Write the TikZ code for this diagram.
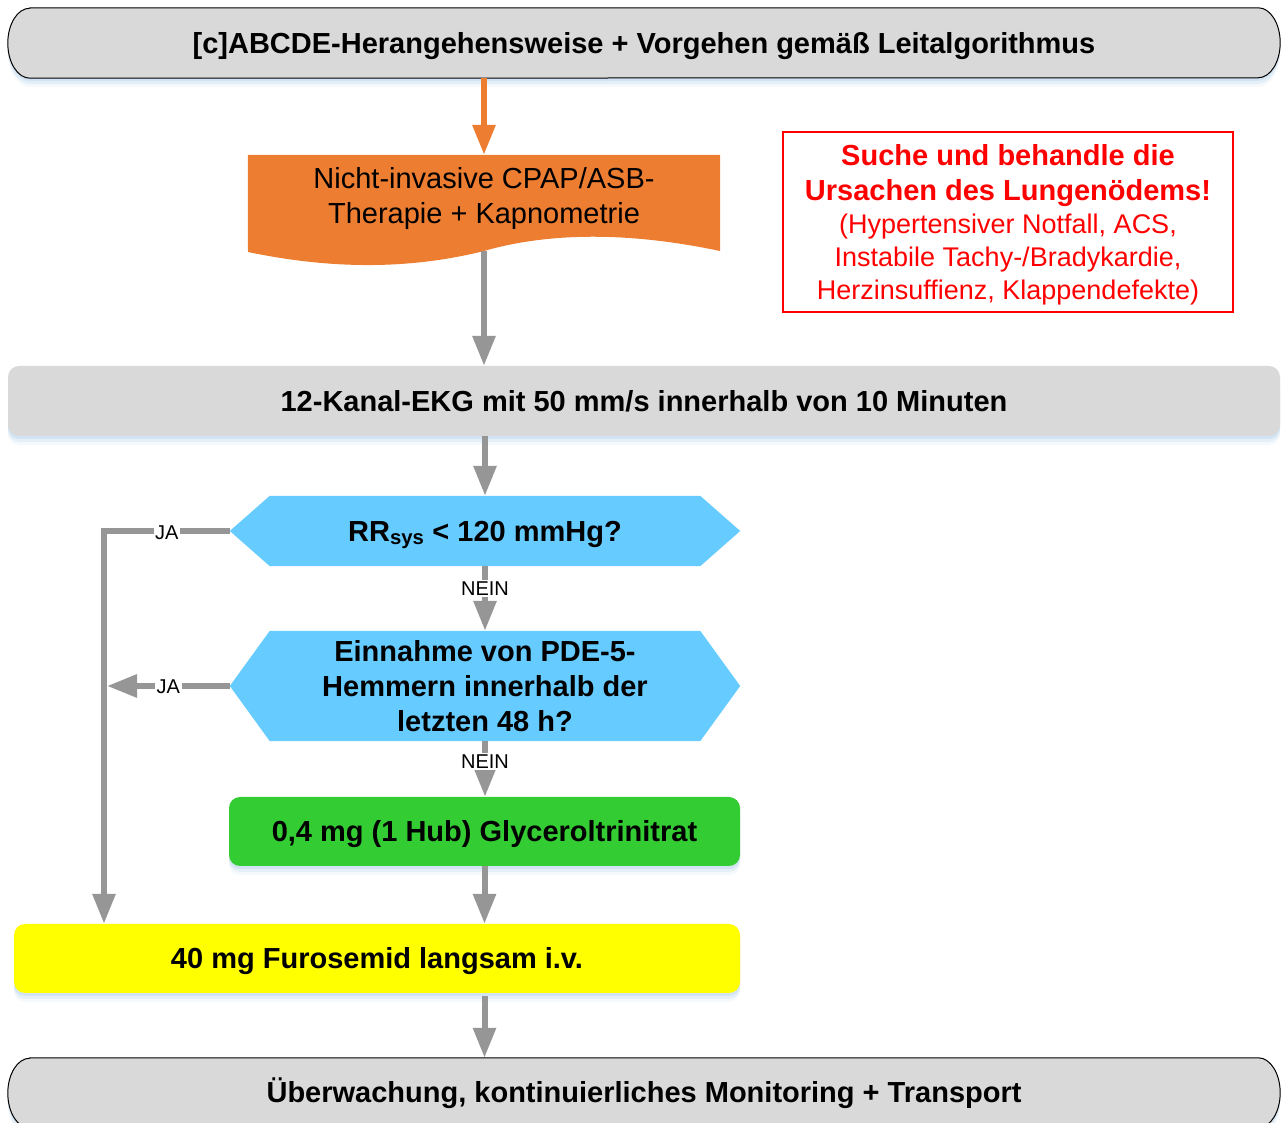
\documentclass[tikz,border=0pt]{standalone}
\usepackage{fontspec}
\setmainfont{Liberation Sans}
\usetikzlibrary{arrows.meta,backgrounds,calc}
\pgfdeclarelayer{shadowlayer}
\pgfsetlayers{shadowlayer,background,main}

\definecolor{boxgray}{HTML}{D9D9D9}
\definecolor{arrowgray}{HTML}{969696}
\definecolor{cpaporange}{HTML}{ED7D31}
\definecolor{qblue}{HTML}{66CCFF}
\definecolor{gtngreen}{HTML}{33CC33}
\definecolor{furoyellow}{HTML}{FFFF00}
\definecolor{alertred}{HTML}{FF0000}
\definecolor{shadeblue}{HTML}{BDD7EE}

\tikzset{
  bigbold/.style={font=\fontsize{29}{35}\selectfont\bfseries},
  bignorm/.style={font=\fontsize{29}{35}\selectfont},
  softshadow/.style={
    preaction={draw=none, fill=shadeblue, fill opacity=0.45, transform canvas={yshift=-3pt}},
    preaction={draw=none, fill=shadeblue, fill opacity=0.30, transform canvas={yshift=-6pt}},
    preaction={draw=none, fill=shadeblue, fill opacity=0.15, transform canvas={yshift=-9pt}}},
  termtext/.style={bigbold, minimum width=1272pt, minimum height=70pt, inner sep=0pt},
  termshape/.style={fill=boxgray, draw=black, line width=1pt, softshadow},
  plainbox/.style={bigbold, minimum height=70pt, inner sep=0pt, rounded corners=11pt, softshadow},
  question/.style={bigbold, minimum width=510pt, inner sep=0pt, align=center},
  garrow/.style={draw=arrowgray, line width=6pt, -{Triangle[length=30pt,width=22pt]}},
  oarrow/.style={draw=cpaporange, line width=6pt, -{Triangle[length=30pt,width=22pt]}},
  lbl/.style={font=\fontsize{20}{20}\selectfont, fill=white, inner sep=1.5pt, text=black},
}

\begin{document}
\begin{tikzpicture}[x=1pt,y=1pt]
\useasboundingbox (0,0) rectangle (1288,1122);

% ---- nodes ----
\node[termtext, text depth=0pt] (top) at (644,1079) {[c]ABCDE-Herangehensweise + Vorgehen gemäß Leitalgorithmus};

\node[bignorm, minimum width=472pt, minimum height=81pt, inner sep=0pt, align=center, text depth=0pt] (cpap) at (484,926.5)
  {Nicht-invasive CPAP/ASB-\\Therapie + Kapnometrie};

\node[draw=alertred, line width=2pt, text=alertred, minimum width=450pt, minimum height=180pt,
      inner sep=0pt, align=center, text depth=0pt, font=\fontsize{27}{33}\selectfont] (cause) at (1008,900)
  {\textbf{\fontsize{29}{33}\selectfont Suche und behandle die}\\[2pt]\textbf{\fontsize{29}{33}\selectfont Ursachen des Lungenödems!}\\(Hypertensiver Notfall, ACS,\\Instabile Tachy-/Bradykardie,\\Herzinsuffienz, Klappendefekte)};

\node[plainbox, fill=boxgray, minimum width=1272pt] (ekg) at (644,721)
  {12-Kanal-EKG mit 50 mm/s innerhalb von 10 Minuten};

\node[question, minimum height=70pt, text depth=0pt] (q1) at (485,591)
  {RR\textsubscript{sys} < 120 mmHg?};

\node[question, minimum height=110pt] (q2) at (485,436)
  {Einnahme von PDE-5-\\Hemmern innerhalb der\\letzten 48 h?};

\node[plainbox, fill=gtngreen, minimum width=511pt, minimum height=69pt, text depth=1pt] (gtn) at (484.5,290.5)
  {0,4 mg (1 Hub) Glyceroltrinitrat};

\node[plainbox, fill=furoyellow, minimum width=726pt, minimum height=69pt, text depth=1pt] (furo) at (377,163.5)
  {40 mg Furosemid langsam i.v.};

\node[termtext] (bot) at (644,29) {Überwachung, kontinuierliches Monitoring + Transport};

\coordinate (jx) at (104,0);

% ---- shapes behind the texts ----
\begin{scope}[on background layer]
  % terminal boxes with flattened round ends
  \path[termshape] ([xshift=22pt]top.north west) -- ([xshift=-22pt]top.north east)
    arc[start angle=90, end angle=-90, x radius=22pt, y radius=35pt]
    -- ([xshift=22pt]top.south west)
    arc[start angle=270, end angle=90, x radius=22pt, y radius=35pt] -- cycle;
  \path[termshape] ([xshift=22pt]bot.north west) -- ([xshift=-22pt]bot.north east)
    arc[start angle=90, end angle=-90, x radius=22pt, y radius=35pt]
    -- ([xshift=22pt]bot.south west)
    arc[start angle=270, end angle=90, x radius=22pt, y radius=35pt] -- cycle;
  % document shape with wavy lower edge
  \fill[cpaporange] (cpap.north west) -- (cpap.north east) -- (720,871)
    .. controls (630,890) and (550,890) .. (484,871)
    .. controls (400,850) and (320,855) .. (248,870) -- cycle;
  % decision hexagons
  \fill[qblue] (q1.west) -- ([xshift=40pt]q1.north west) -- ([xshift=-40pt]q1.north east)
    -- (q1.east) -- ([xshift=-40pt]q1.south east) -- ([xshift=40pt]q1.south west) -- cycle;
  \fill[qblue] (q2.west) -- ([xshift=40pt]q2.north west) -- ([xshift=-40pt]q2.north east)
    -- (q2.east) -- ([xshift=-40pt]q2.south east) -- ([xshift=40pt]q2.south west) -- cycle;
\end{scope}

% ---- connectors ----
\draw[oarrow] (cpap.north |- top.south) -- (cpap.north);
\draw[garrow] ([yshift=-15pt]cpap.south) -- (cpap.south |- ekg.north);
\draw[garrow] (q1.north |- ekg.south) -- (q1.north);
\draw[garrow] (q1.south) -- node[lbl, pos=0.35] {NEIN} (q2.north);
\draw[garrow] (q2.south) -- node[lbl, pos=0.37] {NEIN} (q2.south |- gtn.north);
\draw[garrow] (gtn.south) -- (gtn.south |- furo.north);
\draw[garrow, shorten <=3pt] (furo.south -| gtn.south) -- (gtn.south |- bot.north);
\draw[garrow] (q1.west) -- node[lbl, yshift=-1.5pt] {JA} (q1.west -| jx) -- (jx |- furo.north);
\draw[garrow] (q2.west) -- node[lbl, yshift=-1pt] {JA} ([xshift=3pt]q2.west -| jx);
\end{tikzpicture}
\end{document}
